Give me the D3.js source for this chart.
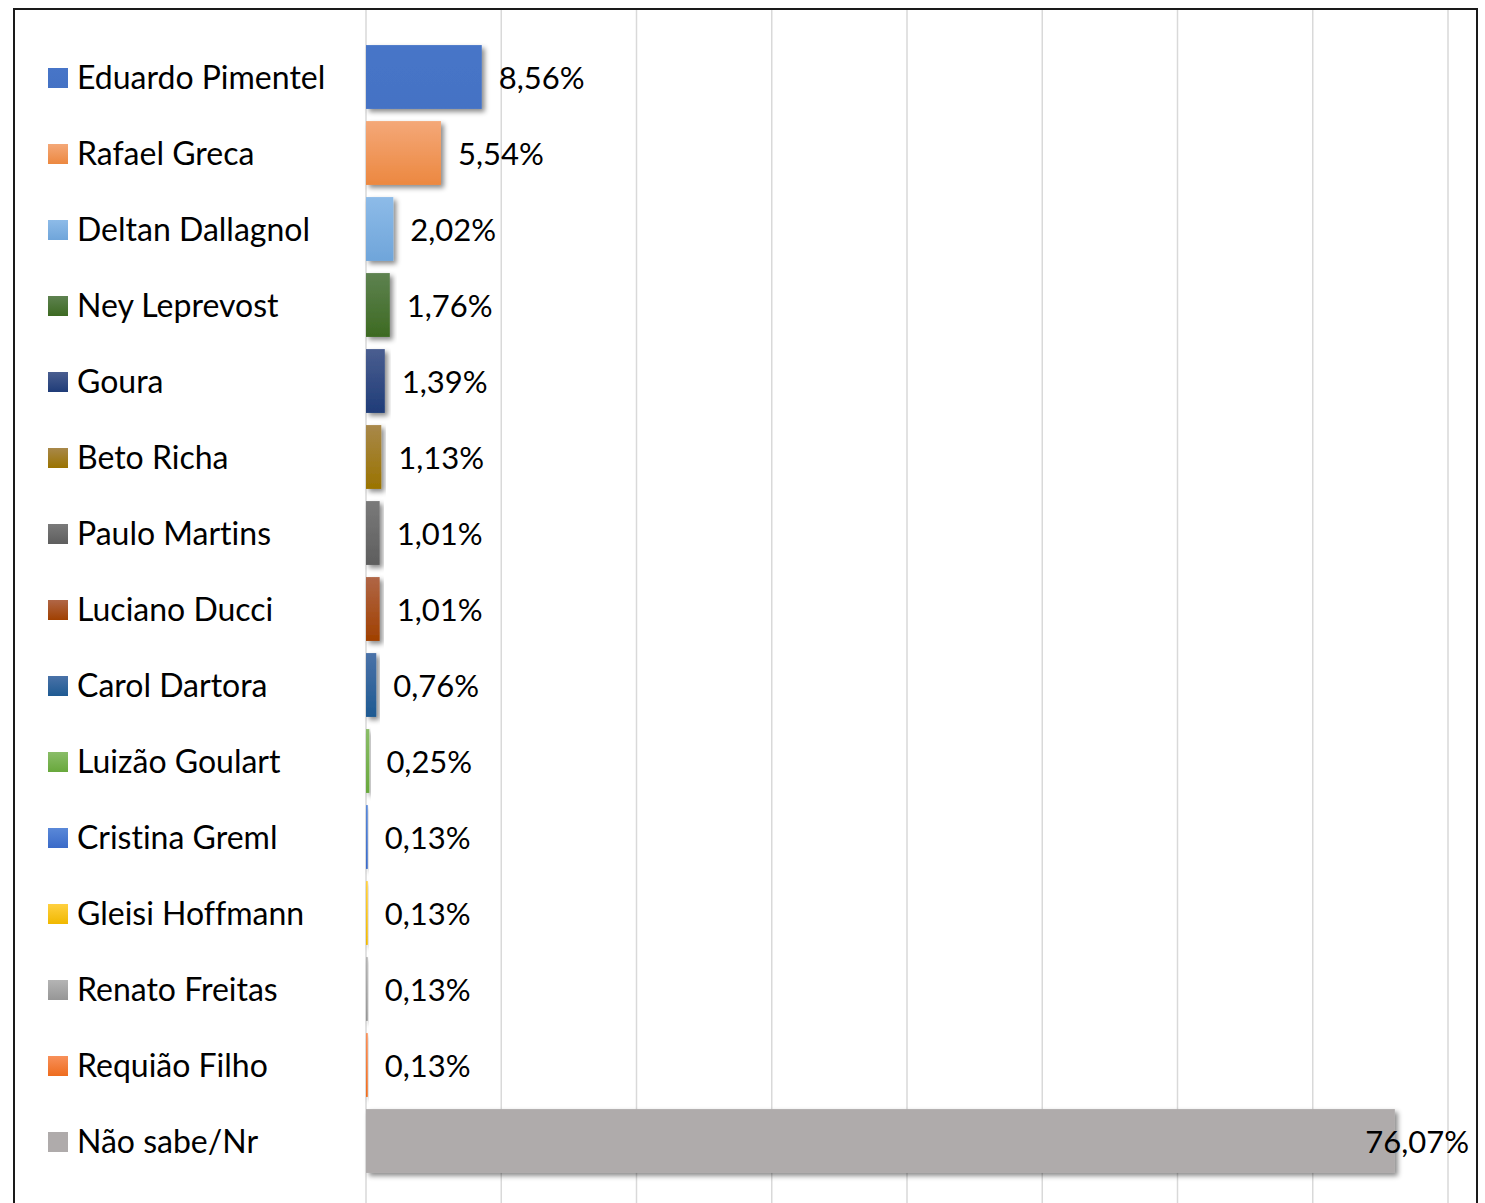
<!DOCTYPE html>
<html>
<head>
<meta charset="utf-8">
<script src="https://cdn.jsdelivr.net/npm/d3@7"></script>
<style>
html,body{margin:0;padding:0;background:#fff;}
svg{display:block;}
text{font-variant-ligatures:none;font-feature-settings:"liga" 0;}
</style>
</head>
<body>
<svg id="chart" width="1485" height="1203"></svg>
<script>
const categories = ["Eduardo Pimentel","Rafael Greca","Deltan Dallagnol","Ney Leprevost","Goura","Beto Richa","Paulo Martins","Luciano Ducci","Carol Dartora","Luizão Goulart","Cristina Greml","Gleisi Hoffmann","Renato Freitas","Requião Filho","Não sabe/Nr"];
const values = [8.56,5.54,2.02,1.76,1.39,1.13,1.01,1.01,0.76,0.25,0.13,0.13,0.13,0.13,76.07];
const valueLabels = ["8,56%","5,54%","2,02%","1,76%","1,39%","1,13%","1,01%","1,01%","0,76%","0,25%","0,13%","0,13%","0,13%","0,13%","76,07%"];
const colorsTop = ["#4775C8","#F4A878","#8DBBE8","#5E8250","#4A5E90","#A8884A","#7A7A7A","#B06646","#4A72A8","#8ABD68","#5A88D8","#FFD040","#B4B4B4","#F8905A","#AFABAB"];
const colorsBottom = ["#4472C4","#EC8840","#6FA5DA","#3D6A22","#1F3C78","#9A7300","#5E5E5E","#A04000","#1E5A92","#68A83C","#3A6AC8","#F0B800","#969696","#EE6C1E","#AFABAB"];
const xTicks = [0,10,20,30,40,50,60,70,80];

const svg = d3.select("#chart");
const font = "Lato, 'Open Sans', sans-serif";

const x = d3.scaleLinear().domain([0,80]).range([366,1448]);
const y = d3.scaleBand().domain(categories).range([39,1179]).paddingInner(0.16).paddingOuter(0.08);

const defs = svg.append("defs");
categories.forEach((c,i)=>{
  const g = defs.append("linearGradient").attr("id","g"+i).attr("x1",0).attr("y1",0).attr("x2",0).attr("y2",1);
  g.append("stop").attr("offset","0%").attr("stop-color",colorsTop[i]);
  g.append("stop").attr("offset","100%").attr("stop-color",colorsBottom[i]);
});
const f = defs.append("filter").attr("id","shadow").attr("x","-20%").attr("y","-20%").attr("width","150%").attr("height","150%");
f.append("feDropShadow").attr("dx",3).attr("dy",3).attr("stdDeviation",2.5).attr("flood-color","#000").attr("flood-opacity",0.45);

// gridlines
svg.append("g").selectAll("line").data(xTicks).join("line")
  .attr("x1",d=>x(d)).attr("x2",d=>x(d)).attr("y1",10).attr("y2",1203)
  .attr("stroke","#d9d9d9").attr("stroke-width",1.5);

// bars
svg.append("g").selectAll("rect").data(categories).join("rect")
  .attr("x",x(0)).attr("y",d=>y(d))
  .attr("width",(d,i)=>x(values[i])-x(0))
  .attr("height",y.bandwidth())
  .attr("fill",(d,i)=>"url(#g"+i+")")
  .attr("filter","url(#shadow)");

// category labels with legend keys
const lab = svg.append("g");
categories.forEach((c,i)=>{
  const cy = y(c)+y.bandwidth()/2;
  lab.append("rect").attr("x",48).attr("y",cy-9).attr("width",20).attr("height",20).attr("fill","url(#g"+i+")");
  lab.append("text").attr("x",77).attr("y",cy+12).text(c)
    .attr("font-family",font).attr("font-size",32).attr("fill","#000");
});

// value labels
const vl = svg.append("g");
categories.forEach((c,i)=>{
  const cy = y(c)+y.bandwidth()/2;
  const t = vl.append("text").attr("y",cy+12).text(valueLabels[i])
    .attr("font-family",font).attr("font-size",31).attr("fill","#000");
  let tx = x(values[i]) + 17;
  const w = t.node().getComputedTextLength();
  if (tx + w > 1469) tx = 1469 - w;
  t.attr("x",tx);
});

// border
svg.append("rect").attr("x",14).attr("y",9).attr("width",1463).attr("height",1260)
  .attr("fill","none").attr("stroke","#1a1a1a").attr("stroke-width",2);
</script>
</body>
</html>
